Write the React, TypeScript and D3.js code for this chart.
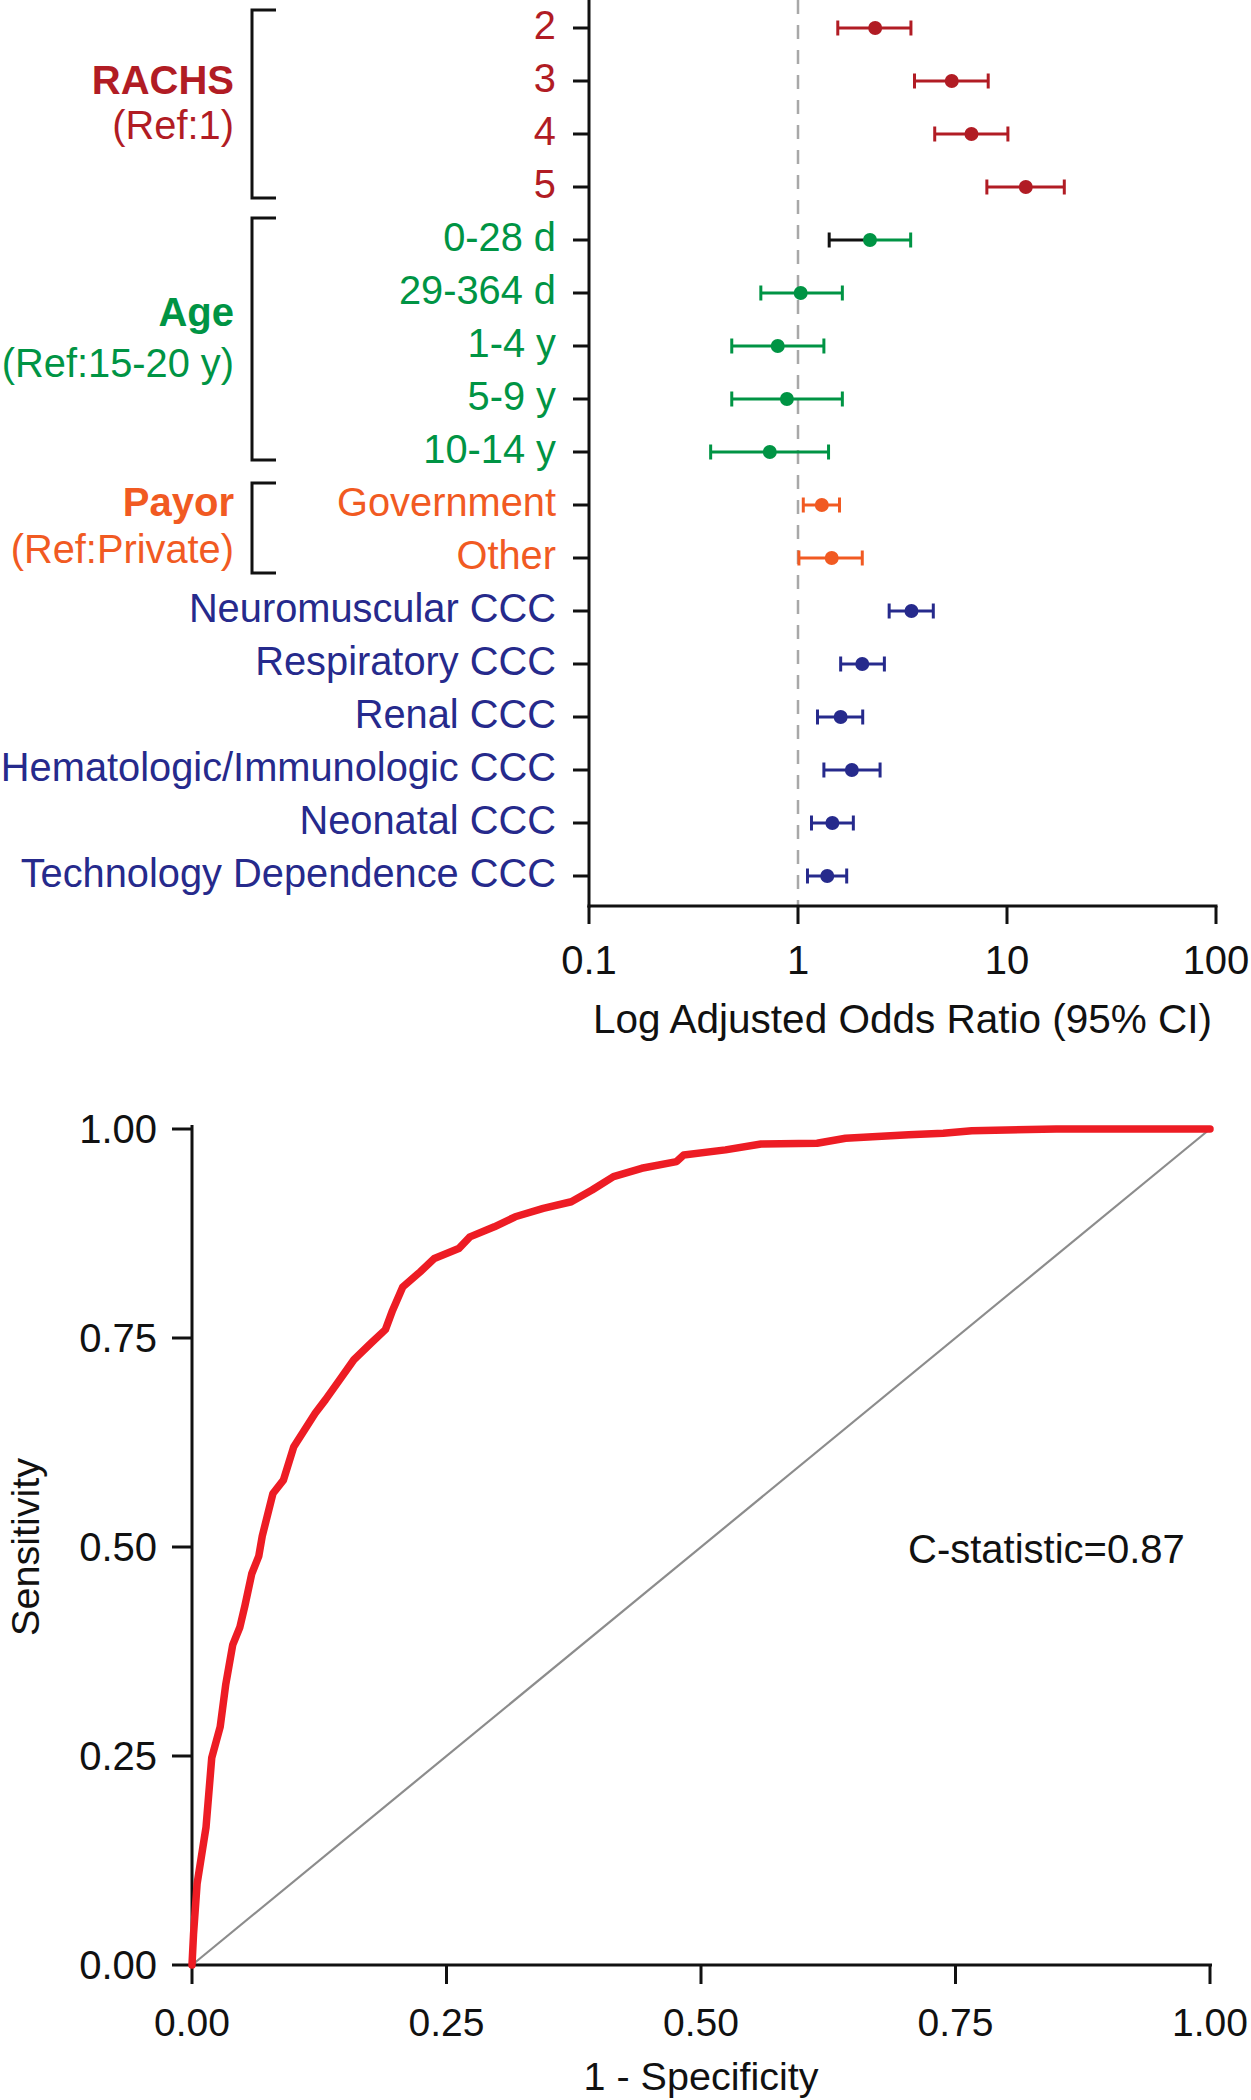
import React from "react";
import * as d3 from "d3";

// ---------- Forest plot data ----------
const categories = [
  "2", "3", "4", "5",
  "0-28 d", "29-364 d", "1-4 y", "5-9 y", "10-14 y",
  "Government", "Other",
  "Neuromuscular CCC", "Respiratory CCC", "Renal CCC",
  "Hematologic/Immunologic CCC", "Neonatal CCC", "Technology Dependence CCC",
];
const categoryGroup = [
  "RACHS", "RACHS", "RACHS", "RACHS",
  "Age", "Age", "Age", "Age", "Age",
  "Payor", "Payor",
  "CCC", "CCC", "CCC", "CCC", "CCC", "CCC",
];
const oddsRatio = [2.34, 5.44, 6.76, 12.3, 2.21, 1.03, 0.8, 0.885, 0.733, 1.3, 1.45, 3.49, 2.03, 1.6, 1.81, 1.46, 1.38];
const ciLower = [1.55, 3.61, 4.51, 8.01, 1.41, 0.664, 0.482, 0.482, 0.382, 1.06, 1.01, 2.73, 1.6, 1.24, 1.33, 1.16, 1.11];
const ciUpper = [3.47, 8.13, 10.1, 18.8, 3.46, 1.63, 1.33, 1.63, 1.4, 1.58, 2.03, 4.44, 2.59, 2.04, 2.47, 1.84, 1.71];
const blackLowerArm = ["0-28 d"];
const xTicks = [0.1, 1, 10, 100];
const xTickLabels = ["0.1", "1", "10", "100"];

const groupNames = ["RACHS", "Age", "Payor"];
const groupRefs = ["(Ref:1)", "(Ref:15-20 y)", "(Ref:Private)"];

// ---------- ROC data ----------
const fpr = [0, 0.0015, 0.005, 0.0138, 0.0194, 0.0277, 0.0332, 0.04, 0.047, 0.052, 0.0587, 0.0656, 0.069, 0.0795, 0.0898, 0.1, 0.1105, 0.121, 0.131, 0.145, 0.159, 0.176, 0.19, 0.197, 0.207, 0.224, 0.238, 0.262, 0.273, 0.297, 0.3175, 0.345, 0.3726, 0.393, 0.414, 0.4417, 0.476, 0.483, 0.524, 0.559, 0.614, 0.642, 0.704, 0.738, 0.766, 0.849, 1.0];
const tpr = [0, 0.037, 0.097, 0.165, 0.248, 0.285, 0.336, 0.383, 0.404, 0.43, 0.468, 0.489, 0.513, 0.564, 0.58, 0.62, 0.64, 0.66, 0.676, 0.7, 0.724, 0.744, 0.76, 0.783, 0.811, 0.829, 0.845, 0.857, 0.871, 0.883, 0.895, 0.905, 0.913, 0.927, 0.943, 0.953, 0.961, 0.969, 0.975, 0.982, 0.983, 0.989, 0.993, 0.995, 0.998, 1.0, 1.0];
const rocTicks = [0, 0.25, 0.5, 0.75, 1];
const rocTickLabels = ["0.00", "0.25", "0.50", "0.75", "1.00"];
const cStatisticLabel = "C-statistic=0.87";

const groupColors: Record<string, string> = {
  RACHS: "#b11c24",
  Age: "#009444",
  Payor: "#f15a22",
  CCC: "#262a8c",
};

const FONT = "'Liberation Sans', Arial, Helvetica, sans-serif";

export default function App() {
  // forest scales
  const x = d3.scaleLog().domain([0.1, 100]).range([589, 1216]);
  const y = d3.scalePoint<string>().domain(categories).range([28, 876]);
  const axisY = 906;
  const axisX = 589;

  const groupSpans = groupNames.map((g) => {
    const idx = categories.map((c, i) => i).filter((i) => categoryGroup[i] === g);
    return { g, first: categories[idx[0]], last: categories[idx[idx.length - 1]] };
  });
  const bracketPad: Record<string, [number, number]> = {
    RACHS: [-18, 11],
    Age: [-22, 8],
    Payor: [-22, 15],
  };
  const groupLabelY: Record<string, [number, number]> = {
    RACHS: [94, 139],
    Age: [326, 377],
    Payor: [516, 563],
  };

  // ROC scales
  const rx = d3.scaleLinear().domain([0, 1]).range([192, 1210]);
  const ry = d3.scaleLinear().domain([0, 1]).range([1965, 1129]);
  const rocLine = d3
    .line<number>()
    .x((d, i) => rx(fpr[i]))
    .y((d, i) => ry(tpr[i]));
  const rocPath = rocLine(fpr) || "";

  return (
    <svg
      width={1251}
      height={2100}
      style={{ position: "absolute", left: 0, top: 0, background: "#fff", fontFamily: FONT }}
    >
      <rect x={0} y={0} width={1251} height={2100} fill="#fff" />

      {/* ===== Forest plot ===== */}
      <line x1={x(1)} x2={x(1)} y1={0} y2={axisY} stroke="#a8a8a8" strokeWidth={2.5} strokeDasharray="14 11" />

      <line x1={axisX} x2={axisX} y1={0} y2={axisY + 1.5} stroke="#111" strokeWidth={3} />
      {categories.map((c) => (
        <line key={"yt" + c} x1={axisX - 16} x2={axisX} y1={y(c)} y2={y(c)} stroke="#111" strokeWidth={3} />
      ))}
      {categories.map((c, i) => (
        <text
          key={"yl" + c}
          x={556}
          y={(y(c) as number) + 11}
          textAnchor="end"
          fontSize={39.8}
          fill={groupColors[categoryGroup[i]]}
        >
          {c}
        </text>
      ))}

      <line x1={axisX - 1.5} x2={x(100) + 1.5} y1={axisY} y2={axisY} stroke="#111" strokeWidth={3} />
      {xTicks.map((t) => (
        <line key={"xt" + t} x1={x(t)} x2={x(t)} y1={axisY} y2={axisY + 18} stroke="#111" strokeWidth={3} />
      ))}
      {xTicks.map((t, i) => (
        <text key={"xl" + t} x={x(t)} y={974} textAnchor="middle" fontSize={40} fill="#111">
          {xTickLabels[i]}
        </text>
      ))}
      <text x={(x(0.1) + x(100)) / 2} y={1033} textAnchor="middle" fontSize={40.5} fill="#111">
        Log Adjusted Odds Ratio (95% CI)
      </text>

      {categories.map((c, i) => {
        const cy = y(c) as number;
        const col = groupColors[categoryGroup[i]];
        const lowCol = blackLowerArm.includes(c) ? "#111" : col;
        return (
          <g key={"pt" + c}>
            <line x1={x(ciLower[i])} x2={x(oddsRatio[i])} y1={cy} y2={cy} stroke={lowCol} strokeWidth={3} />
            <line x1={x(oddsRatio[i])} x2={x(ciUpper[i])} y1={cy} y2={cy} stroke={col} strokeWidth={3} />
            <line x1={x(ciLower[i])} x2={x(ciLower[i])} y1={cy - 7.5} y2={cy + 7.5} stroke={lowCol} strokeWidth={3} />
            <line x1={x(ciUpper[i])} x2={x(ciUpper[i])} y1={cy - 7.5} y2={cy + 7.5} stroke={col} strokeWidth={3} />
            <circle cx={x(oddsRatio[i])} cy={cy} r={7} fill={col} />
          </g>
        );
      })}

      {groupSpans.map((s, gi) => {
        const y0 = (y(s.first) as number) + bracketPad[s.g][0];
        const y1 = (y(s.last) as number) + bracketPad[s.g][1];
        const col = groupColors[s.g];
        return (
          <g key={"br" + s.g}>
            <path d={`M276,${y0} H252 V${y1} H276`} fill="none" stroke="#111" strokeWidth={3} />
            <text x={234} y={groupLabelY[s.g][0]} textAnchor="end" fontSize={40} fontWeight="bold" fill={col}>
              {s.g}
            </text>
            <text x={234} y={groupLabelY[s.g][1]} textAnchor="end" fontSize={39.8} fill={col}>
              {groupRefs[gi]}
            </text>
          </g>
        );
      })}

      {/* ===== ROC plot ===== */}
      <line x1={rx(0)} y1={ry(0)} x2={rx(1)} y2={ry(1)} stroke="#8c8c8c" strokeWidth={2.2} />
      <line x1={rx(0)} x2={rx(0)} y1={ry(1) - 4} y2={ry(0) + 1.5} stroke="#111" strokeWidth={3} />
      <line x1={rx(0) - 1.5} x2={rx(1) + 2} y1={ry(0)} y2={ry(0)} stroke="#111" strokeWidth={3} />
      {rocTicks.map((t, i) => (
        <g key={"ry" + t}>
          <line x1={rx(0) - 20} x2={rx(0)} y1={ry(t)} y2={ry(t)} stroke="#111" strokeWidth={3} />
          <text x={157} y={ry(t) + 14} textAnchor="end" fontSize={40} fill="#111">
            {rocTickLabels[i]}
          </text>
        </g>
      ))}
      {rocTicks.map((t, i) => (
        <g key={"rx" + t}>
          <line x1={rx(t)} x2={rx(t)} y1={ry(0)} y2={ry(0) + 19} stroke="#111" strokeWidth={3} />
          <text x={rx(t)} y={2036} textAnchor="middle" fontSize={39} fill="#111">
            {rocTickLabels[i]}
          </text>
        </g>
      ))}
      <text x={(rx(0) + rx(1)) / 2} y={2090} textAnchor="middle" fontSize={39.5} fill="#111">
        1 - Specificity
      </text>
      <text
        transform={`translate(38.5, ${(ry(0) + ry(1)) / 2}) rotate(-90)`}
        textAnchor="middle"
        fontSize={39.5}
        fill="#111"
      >
        Sensitivity
      </text>
      <text x={908} y={1563} fontSize={40} fill="#111">
        {cStatisticLabel}
      </text>

      <path d={rocPath} fill="none" stroke="#ed1c24" strokeWidth={7.5} strokeLinejoin="round" strokeLinecap="round" />
    </svg>
  );
}
